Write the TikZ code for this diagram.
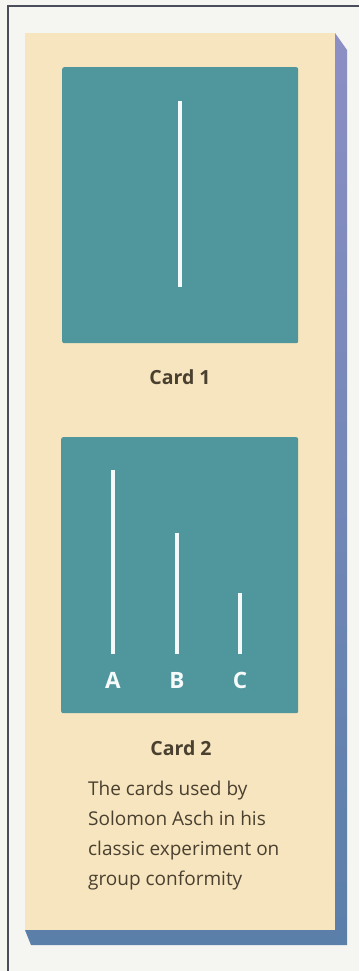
\documentclass[tikz,border=0pt]{standalone}
\usepackage{fontspec}
\setmainfont{Open Sans}
\usetikzlibrary{shadings}
\definecolor{paper}{HTML}{F5F5F2}
\definecolor{cream}{HTML}{F6E5BE}
\definecolor{tealc}{HTML}{4F979D}
\definecolor{ink}{HTML}{4A4030}
\definecolor{framec}{HTML}{4A4E5A}
\definecolor{shtop}{HTML}{8C8FC4}
\definecolor{shbot}{HTML}{5A7FA9}
\tikzset{
  cardbox/.style={fill=tealc, rounded corners=2pt},
  bar/.style={line width=4.5pt, white!94!tealc},
  cardtitle/.style={font=\bfseries\fontsize{19.5}{22}\selectfont, text=ink},
  lab/.style={font=\bfseries\fontsize{22.5}{24}\selectfont, text=white!95!tealc},
}
\begin{document}
\begin{tikzpicture}[x=1pt,y=-1pt]
\useasboundingbox (0,0) rectangle (359,971);
\fill[paper] (0,0) rectangle (359,971);
% frame
\draw[framec, line width=2pt] (359,6) -- (8,6) -- (8,971);
% shadows
\shade[top color=shtop, bottom color=shbot] (335,33) -- (347,50) -- (347,945) -- (31,945) -- (25,930) -- (335,930) -- cycle;
% cream panel
\fill[cream] (25,33) rectangle (335,930);
% card 1
\node[cardbox, minimum width=236pt, minimum height=276pt, inner sep=0pt, anchor=north west] (card1) at (62,67) {};
\draw[bar] (180,101) -- (180,287);
\node[cardtitle] (t1) at (180,377) {Card 1};
% card 2
\node[cardbox, minimum width=237pt, minimum height=276pt, inner sep=0pt, anchor=north west] (card2) at (61,437) {};
\draw[bar] (113,470) -- (113,654);
\draw[bar] (177,533) -- (177,654);
\draw[bar] (240,593) -- (240,654);
\node[lab] (la) at (113,680) {A};
\node[lab] (lb) at (177,680) {B};
\node[lab] (lc) at (240,680) {C};
\node[cardtitle] (t2) at (181,748) {Card 2};
\node[anchor=north west, text=ink, align=left, inner sep=0pt, font=\fontsize{19}{30}\selectfont] (capt) at (88,781) {The cards used by\\Solomon Asch in his\\classic experiment on\\group conformity};
\end{tikzpicture}
\end{document}
